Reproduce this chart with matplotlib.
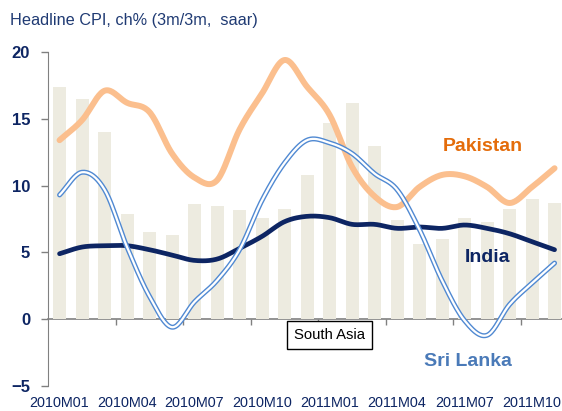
import matplotlib
matplotlib.use("Agg")
import matplotlib.pyplot as plt
import numpy as np

plt.rcParams['font.family'] = ['Liberation Sans', 'DejaVu Sans']

# monthly data, 2010M01 .. 2011M11
months = ["2010M01", "2010M02", "2010M03", "2010M04", "2010M05", "2010M06",
          "2010M07", "2010M08", "2010M09", "2010M10", "2010M11", "2010M12",
          "2011M01", "2011M02", "2011M03", "2011M04", "2011M05", "2011M06",
          "2011M07", "2011M08", "2011M09", "2011M10", "2011M11"]
south_asia = [17.4, 16.5, 14.0, 7.9, 6.5, 6.3, 8.6, 8.5, 8.2, 7.6, 8.25, 10.8,
              14.7, 16.2, 13.0, 7.4, 5.6, 6.0, 7.55, 7.3, 8.25, 9.0, 8.7]
pakistan = [13.4, 14.9, 17.1, 16.2, 15.5, 12.4, 10.6, 10.4, 14.2, 16.9, 19.4, 17.4,
            15.3, 11.4, 9.2, 8.4, 9.9, 10.8, 10.7, 9.9, 8.7, 9.9, 11.3]
india = [4.9, 5.4, 5.5, 5.5, 5.2, 4.8, 4.4, 4.5, 5.3, 6.2, 7.3, 7.7,
         7.6, 7.1, 7.1, 6.8, 6.9, 6.8, 7.05, 6.8, 6.4, 5.8, 5.2]
sri_lanka = [9.3, 11.0, 9.7, 5.4, 1.7, -0.6, 1.3, 2.9, 5.2, 8.9, 11.7, 13.4,
             13.2, 12.4, 10.9, 9.7, 6.7, 2.9, -0.1, -1.2, 1.1, 2.7, 4.2]
tick_labels = months[::3]

navy = "#0d2563"


def smooth(y, n=20):
    # catmull-rom curve through the points, like excel's smoothed line
    y = np.asarray(y, float)
    p = np.concatenate([[2 * y[0] - y[1]], y, [2 * y[-1] - y[-2]]])
    xs, ys = [], []
    for i in range(len(y) - 1):
        t = np.linspace(0, 1, n, endpoint=False)
        p0, p1, p2, p3 = p[i], p[i + 1], p[i + 2], p[i + 3]
        v = 0.5 * (2 * p1 + (-p0 + p2) * t + (2 * p0 - 5 * p1 + 4 * p2 - p3) * t ** 2
                   + (-p0 + 3 * p1 - 3 * p2 + p3) * t ** 3)
        xs.append(i + t)
        ys.append(v)
    xs.append([len(y) - 1])
    ys.append([y[-1]])
    return np.concatenate(xs), np.concatenate(ys)


fig = plt.figure(figsize=(5.62, 4.11), dpi=100)
ax = fig.add_axes([48.3 / 562, 1 - 386 / 411, 23 * 22.5 / 562, (386 - 52) / 411])

x = np.arange(len(months))
ax.bar(x, south_asia, width=0.58, color="#edebe0", zorder=1)

xs, ys = smooth(pakistan)
ax.plot(xs, ys, color="#fbbf8e", lw=4.3, solid_capstyle="round", zorder=3)
xs, ys = smooth(india)
ax.plot(xs, ys, color=navy, lw=3.4, solid_capstyle="round", zorder=4)
xs, ys = smooth(sri_lanka)
ax.plot(xs, ys, color="#5089d2", lw=3.6, solid_capstyle="round", zorder=5)
ax.plot(xs, ys, color="white", lw=1.6, solid_capstyle="round", zorder=6)

ax.set_xlim(-0.5, len(months) - 0.5)
ax.set_ylim(-5, 20)
ax.set_yticks([-5, 0, 5, 10, 15, 20])
ax.tick_params(axis="y", length=5, width=1, color="#808080", pad=8,
               labelsize=12, labelcolor=navy)
for t in ax.get_yticklabels():
    t.set_fontweight("bold")

ax.set_xticks(x[::3])
ax.set_xticklabels(tick_labels)
ax.tick_params(axis="x", length=0, pad=7.5, labelsize=10.4, labelcolor=navy)

for s in ["top", "right", "bottom"]:
    ax.spines[s].set_visible(False)
ax.spines["left"].set_color("#808080")

# zero line with tick marks between the quarters
zero = ax.secondary_xaxis((0 - (-5)) / 25)
zero.set_xticks(np.arange(2.5, len(months), 3))
zero.tick_params(length=4, width=1, color="#808080", labelbottom=False)
zero.spines["bottom"].set_color("#808080")
zero.spines["bottom"].set_linewidth(1.2)

ax.text(18.8, 12.9, "Pakistan", color="#e46c0a", fontsize=14, fontweight="bold",
        ha="center", va="center")
ax.text(19.0, 4.6, "India", color=navy, fontsize=14, fontweight="bold",
        ha="center", va="center")
ax.text(18.15, -3.2, "Sri Lanka", color="#4a7ab8", fontsize=14, fontweight="bold",
        ha="center", va="center")
ax.text(12.0, -1.17, "South Asia", color="black", fontsize=10.7, ha="center", va="center",
        bbox=dict(boxstyle="square,pad=0.45", fc="white", ec="black", lw=1), zorder=7)

fig.text(10 / 562, 1 - 20 / 411, "Headline CPI, ch% (3m/3m,  saar)", color="#1f3a73",
         fontsize=11.7, ha="left", va="center")

fig.savefig("out.png", dpi=100)
